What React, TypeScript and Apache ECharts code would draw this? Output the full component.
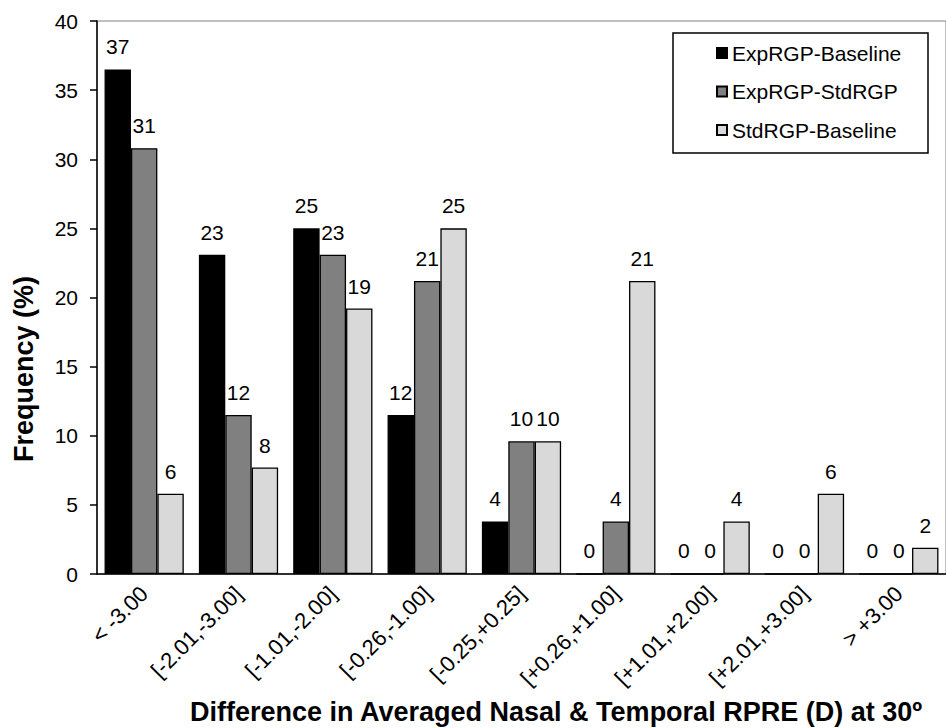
import React, { useEffect, useRef } from "react";
import * as echarts from "echarts";

const categories = [
  "< -3.00",
  "[-2.01,-3.00]",
  "[-1.01,-2.00]",
  "[-0.26,-1.00]",
  "[-0.25,+0.25]",
  "[+0.26,+1.00]",
  "[+1.01,+2.00]",
  "[+2.01,+3.00]",
  "> +3.00",
];
const seriesNames = ["ExpRGP-Baseline", "ExpRGP-StdRGP", "StdRGP-Baseline"];
const expBaseline = [36.5, 23.1, 25.0, 11.5, 3.8, 0, 0, 0, 0];
const expStd = [30.8, 11.5, 23.1, 21.2, 9.6, 3.8, 0, 0, 0];
const stdBaseline = [5.8, 7.7, 19.2, 25.0, 9.6, 21.2, 3.8, 5.8, 1.9];
const yTicks = { min: 0, max: 40, interval: 5 };
const xTitle = "Difference in Averaged Nasal & Temporal RPRE (D) at 30º";
const yTitle = "Frequency (%)";

const FONT = "'Liberation Sans', Arial, sans-serif";
const colors = ["#000000", "#808080", "#d9d9d9"];

export default function App() {
  const ref = useRef<HTMLDivElement>(null);
  useEffect(() => {
    if (!ref.current) return;
    const chart = echarts.init(ref.current, null, { renderer: "svg" });
    const dataSets = [expBaseline, expStd, stdBaseline];
    chart.setOption({
      animation: false,
      textStyle: { fontFamily: FONT },
      grid: {
        left: 97,
        right: -10.5,
        top: 21,
        bottom: 154,
        show: true,
        borderColor: "#808080",
        borderWidth: 1,
        backgroundColor: "transparent",
      },
      legend: {
        orient: "vertical",
        left: 716,
        top: 42.5,
        padding: 0,
        itemWidth: 10,
        itemHeight: 10,
        itemGap: 17.5,
        icon: "rect",
        textStyle: {
          fontFamily: FONT,
          fontSize: 21,
          color: "#000",
        },
        data: seriesNames,
      },
      xAxis: {
        type: "category",
        data: categories,
        axisLine: { show: true, lineStyle: { color: "#000", width: 1.5 } },
        axisTick: { show: false },
        axisLabel: {
          rotate: 45,
          margin: 16,
          fontFamily: FONT,
          fontSize: 22,
          color: "#000",
          interval: 0,
        },
      },
      yAxis: {
        type: "value",
        min: yTicks.min,
        max: yTicks.max,
        interval: yTicks.interval,
        axisLine: { show: true, lineStyle: { color: "#000", width: 1.5 } },
        axisTick: { show: true, length: 7, lineStyle: { color: "#000", width: 1.5 } },
        splitLine: { show: false },
        axisLabel: { fontFamily: FONT, fontSize: 21, color: "#000", margin: 19 },
      },
      series: dataSets.map((d, i) => ({
        name: seriesNames[i],
        type: "bar",
        data: d,
        barGap: "0%",
        barCategoryGap: "16%",
        itemStyle: { color: colors[i], borderColor: "#000", borderWidth: 1.3 },
        label: {
          show: true,
          position: "top",
          distance: 12,
          fontFamily: FONT,
          fontSize: 21,
          color: "#000",
          formatter: (p: any) => String(Math.round(p.value)),
        },
      })),
      graphic: [
        {
          type: "rect",
          shape: { x: 673, y: 33, width: 255, height: 120 },
          style: { fill: "none", stroke: "#000", lineWidth: 1.5 },
          z: 10,
        },
        {
          type: "text",
          x: 556,
          y: 712,
          style: {
            text: xTitle,
            fontFamily: FONT,
            fontSize: 27,
            fontWeight: "bold",
            fill: "#000",
            align: "center",
            verticalAlign: "middle",
          },
        },
        {
          type: "text",
          x: 24,
          y: 369,
          rotation: Math.PI / 2,
          style: {
            text: yTitle,
            fontFamily: FONT,
            fontSize: 27,
            fontWeight: "bold",
            fill: "#000",
            align: "center",
            verticalAlign: "middle",
          },
        },
      ],
    });
    return () => chart.dispose();
  }, []);
  return (
    <div
      ref={ref}
      style={{ position: "absolute", left: 0, top: 0, width: 946, height: 728 }}
    />
  );
}
